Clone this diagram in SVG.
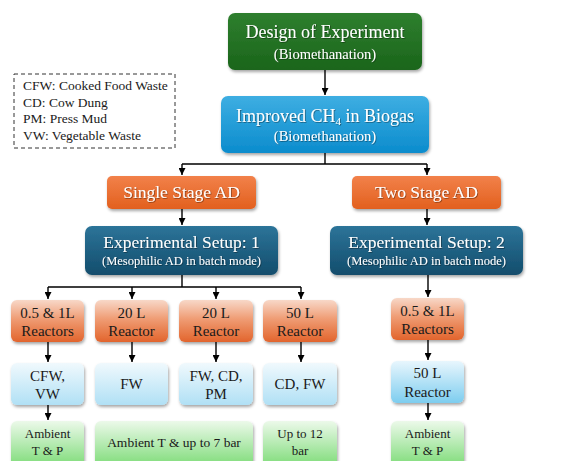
<svg xmlns="http://www.w3.org/2000/svg" width="576" height="461" viewBox="0 0 576 461">
<defs>
<linearGradient id="gGreen" x1="0" y1="0" x2="0" y2="1"><stop offset="0" stop-color="#2f7f2f"/><stop offset="1" stop-color="#1a651a"/></linearGradient>
<linearGradient id="gBlue" x1="0" y1="0" x2="0" y2="1"><stop offset="0" stop-color="#3eaee2"/><stop offset="1" stop-color="#0b8ccd"/></linearGradient>
<linearGradient id="gOrange" x1="0" y1="0" x2="0" y2="1"><stop offset="0" stop-color="#f2814a"/><stop offset="1" stop-color="#e2601e"/></linearGradient>
<linearGradient id="gTeal" x1="0" y1="0" x2="0" y2="1"><stop offset="0" stop-color="#2d7499"/><stop offset="1" stop-color="#124d6c"/></linearGradient>
<linearGradient id="gReact" x1="0" y1="0" x2="0" y2="1"><stop offset="0" stop-color="#f8d8c8"/><stop offset="0.45" stop-color="#ef9c74"/><stop offset="1" stop-color="#e2642c"/></linearGradient>
<linearGradient id="gLBlue" x1="0" y1="0" x2="0" y2="1"><stop offset="0" stop-color="#f0f9fd"/><stop offset="1" stop-color="#b0e0f5"/></linearGradient>
<linearGradient id="gLBlue2" x1="0" y1="0" x2="0" y2="1"><stop offset="0" stop-color="#e8f6fd"/><stop offset="1" stop-color="#7dcdef"/></linearGradient>
<linearGradient id="gLGreen" x1="0" y1="0" x2="0" y2="1"><stop offset="0" stop-color="#ecf9ea"/><stop offset="1" stop-color="#7cdb76"/></linearGradient>
<filter id="sh" x="-10%" y="-10%" width="130%" height="140%"><feDropShadow dx="1" dy="2" stdDeviation="1.5" flood-color="#000" flood-opacity="0.35"/></filter>
<filter id="tsh" x="-5%" y="-20%" width="110%" height="150%"><feDropShadow dx="0.7" dy="0.7" stdDeviation="0.4" flood-color="#000" flood-opacity="0.5"/></filter>
<marker id="ah" viewBox="0 0 10 10" refX="10" refY="5" markerWidth="7" markerHeight="7" markerUnits="userSpaceOnUse" orient="auto"><path d="M0,0 L10,5 L0,10 z" fill="#000"/></marker>
</defs>
<style>
text{font-family:"Liberation Serif","DejaVu Serif",serif;text-anchor:middle}
.w{fill:#fff;filter:url(#tsh)}
.d{fill:#1a1a1a}
.box{filter:url(#sh)}
.c{fill:none;stroke:#000;stroke-width:1.4}
.ca{fill:none;stroke:#000;stroke-width:1.4;marker-end:url(#ah)}
</style>

<g id="legend">
<rect x="14" y="74" width="161" height="74" fill="#fff" stroke="#333" stroke-width="1" stroke-dasharray="4,3"/>
<text x="23" y="90" font-size="13.5" style="text-anchor:start" class="d">CFW: Cooked Food Waste</text>
<text x="23" y="107" font-size="13.5" style="text-anchor:start" class="d">CD: Cow Dung</text>
<text x="23" y="123" font-size="13.5" style="text-anchor:start" class="d">PM: Press Mud</text>
<text x="23" y="140" font-size="13.5" style="text-anchor:start" class="d">VW: Vegetable Waste</text>
</g>

<g id="connectors">
<path class="ca" d="M325,70 V95"/>
<path class="c" d="M325,153 V164 M182,164 H427"/>
<path class="ca" d="M182,164 V175"/>
<path class="ca" d="M427,164 V175"/>
<path class="ca" d="M182,209 V225"/>
<path class="ca" d="M427,209 V225"/>
<path class="c" d="M182,275 V287 M48,287 H301"/>
<path class="ca" d="M48,287 V299"/>
<path class="ca" d="M132,287 V299"/>
<path class="ca" d="M216,287 V299"/>
<path class="ca" d="M301,287 V299"/>
<path class="ca" d="M428,275 V297"/>
<path class="ca" d="M48,342 V362"/>
<path class="ca" d="M132,342 V362"/>
<path class="ca" d="M216,342 V362"/>
<path class="ca" d="M301,342 V362"/>
<path class="ca" d="M428,340 V360"/>
<path class="ca" d="M48,405 V420"/>
<path class="ca" d="M428,403 V420"/>
</g>

<g id="design">
<rect class="box" x="228" y="13" width="194" height="57" rx="7" fill="url(#gGreen)"/>
<text x="325" y="38" font-size="18" class="w">Design of Experiment</text>
<text x="325" y="59" font-size="14.5" class="w">(Biomethanation)</text>
</g>
<g id="improved">
<rect class="box" x="221" y="96" width="208" height="57" rx="7" fill="url(#gBlue)"/>
<text x="325" y="122" font-size="18" class="w">Improved CH<tspan font-size="11" dy="3">4</tspan><tspan dy="-3"> in Biogas</tspan></text>
<text x="325" y="141" font-size="14.5" class="w">(Biomethanation)</text>
</g>
<g id="single">
<rect class="box" x="107" y="176" width="149" height="33" rx="5" fill="url(#gOrange)"/>
<text x="181.5" y="198" font-size="17.5" class="w">Single Stage AD</text>
</g>
<g id="two">
<rect class="box" x="352" y="176" width="149" height="33" rx="5" fill="url(#gOrange)"/>
<text x="426.5" y="198" font-size="17.5" class="w">Two Stage AD</text>
</g>
<g id="setup1">
<rect class="box" x="85" y="226" width="193" height="49" rx="7" fill="url(#gTeal)"/>
<text x="181.5" y="248" font-size="17.5" class="w">Experimental Setup: 1</text>
<text x="181.5" y="265" font-size="12.5" class="w">(Mesophilic AD in batch mode)</text>
</g>
<g id="setup2">
<rect class="box" x="330" y="226" width="193" height="49" rx="7" fill="url(#gTeal)"/>
<text x="426.5" y="248" font-size="17.5" class="w">Experimental Setup: 2</text>
<text x="426.5" y="265" font-size="12.5" class="w">(Mesophilic AD in batch mode)</text>
</g>

<g id="r1">
<rect class="box" x="11" y="300" width="73" height="42" rx="6" fill="url(#gReact)"/>
<text x="47.5" y="318" font-size="15" class="d">0.5 &amp; 1L</text>
<text x="47.5" y="336" font-size="15" class="d">Reactors</text>
</g>
<g id="r2">
<rect class="box" x="95" y="300" width="73" height="42" rx="6" fill="url(#gReact)"/>
<text x="131.5" y="318" font-size="15" class="d">20 L</text>
<text x="131.5" y="336" font-size="15" class="d">Reactor</text>
</g>
<g id="r3">
<rect class="box" x="179" y="300" width="74" height="42" rx="6" fill="url(#gReact)"/>
<text x="216" y="318" font-size="15" class="d">20 L</text>
<text x="216" y="336" font-size="15" class="d">Reactor</text>
</g>
<g id="r4">
<rect class="box" x="263" y="300" width="74" height="42" rx="6" fill="url(#gReact)"/>
<text x="300" y="318" font-size="15" class="d">50 L</text>
<text x="300" y="336" font-size="15" class="d">Reactor</text>
</g>
<g id="r5">
<rect class="box" x="391" y="298" width="73" height="42" rx="6" fill="url(#gReact)"/>
<text x="427.5" y="316" font-size="15" class="d">0.5 &amp; 1L</text>
<text x="427.5" y="334" font-size="15" class="d">Reactors</text>
</g>

<g id="f1">
<rect class="box" x="11" y="363" width="73" height="42" rx="6" fill="url(#gLBlue)"/>
<text x="47.5" y="381" font-size="15" class="d">CFW,</text>
<text x="47.5" y="399" font-size="15" class="d">VW</text>
</g>
<g id="f2">
<rect class="box" x="95" y="363" width="73" height="42" rx="6" fill="url(#gLBlue)"/>
<text x="131.5" y="389" font-size="15" class="d">FW</text>
</g>
<g id="f3">
<rect class="box" x="179" y="363" width="74" height="42" rx="6" fill="url(#gLBlue)"/>
<text x="216" y="381" font-size="15" class="d">FW, CD,</text>
<text x="216" y="399" font-size="15" class="d">PM</text>
</g>
<g id="f4">
<rect class="box" x="263" y="363" width="74" height="42" rx="6" fill="url(#gLBlue)"/>
<text x="300" y="389" font-size="15" class="d">CD, FW</text>
</g>
<g id="f5">
<rect class="box" x="391" y="361" width="73" height="42" rx="6" fill="url(#gLBlue2)"/>
<text x="427.5" y="378" font-size="15" class="d">50 L</text>
<text x="427.5" y="397" font-size="15" class="d">Reactor</text>
</g>

<g id="c1">
<rect class="box" x="11" y="421" width="73" height="46" rx="6" fill="url(#gLGreen)"/>
<text x="47.5" y="438" font-size="13" class="d">Ambient</text>
<text x="47.5" y="455" font-size="13" class="d">T &amp; P</text>
</g>
<g id="c2">
<rect class="box" x="95" y="421" width="158" height="46" rx="6" fill="url(#gLGreen)"/>
<text x="174" y="447" font-size="13.5" class="d">Ambient T &amp; up to 7 bar</text>
</g>
<g id="c3">
<rect class="box" x="263" y="421" width="74" height="46" rx="6" fill="url(#gLGreen)"/>
<text x="300" y="438" font-size="13" class="d">Up to 12</text>
<text x="300" y="455" font-size="13" class="d">bar</text>
</g>
<g id="c4">
<rect class="box" x="391" y="421" width="73" height="46" rx="6" fill="url(#gLGreen)"/>
<text x="427.5" y="438" font-size="13" class="d">Ambient</text>
<text x="427.5" y="455" font-size="13" class="d">T &amp; P</text>
</g>
</svg>
